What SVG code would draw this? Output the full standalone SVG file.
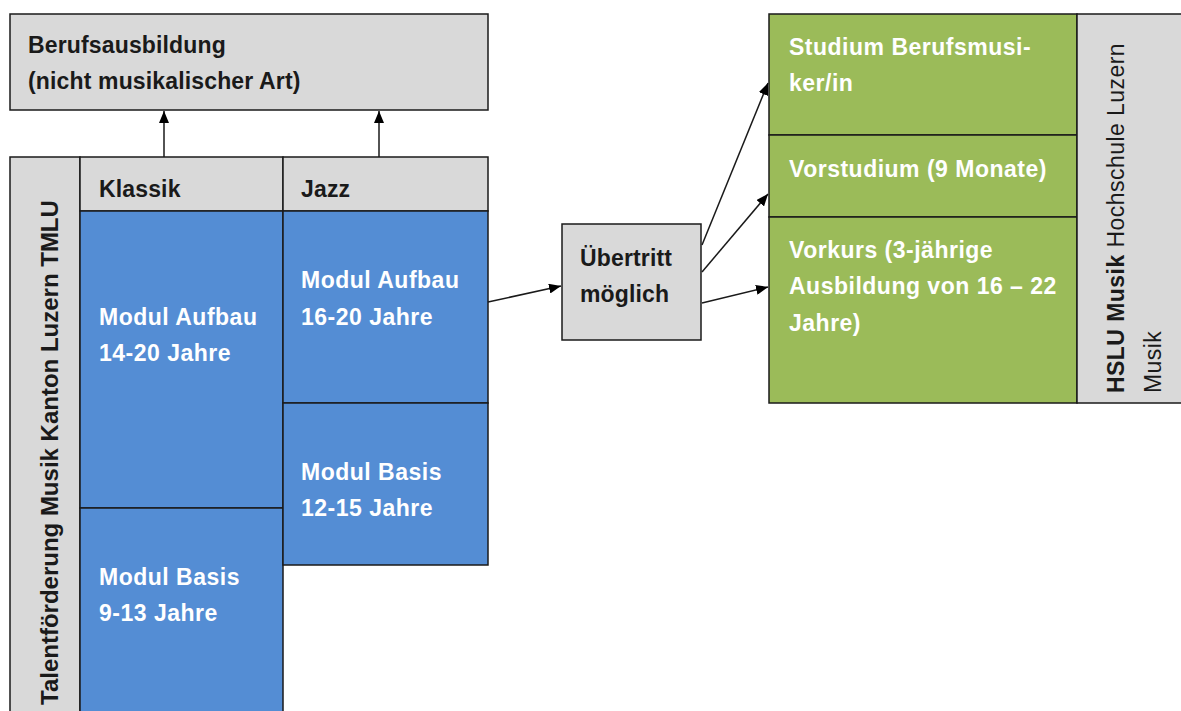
<svg xmlns="http://www.w3.org/2000/svg" width="1181" height="711" viewBox="0 0 1181 711">
<style>
.box{stroke:#1a1a1a;stroke-width:1.5}
.grey{fill:#d9d9d9}
.blue{fill:#548dd4}
.green{fill:#9bbb59}
text{font-family:"Liberation Sans",Arial,sans-serif;font-size:23px;font-weight:bold}
.dark{fill:#1a1a1a;letter-spacing:0.15px}
.white{fill:#ffffff;letter-spacing:0.5px}
.reg{font-weight:normal}
.sp{letter-spacing:0.45px}
.conn{stroke:#1a1a1a;stroke-width:1.5;fill:none;marker-end:url(#ah)}
</style>
<defs>
<marker id="ah" viewBox="0 0 10 10" refX="10" refY="5" markerWidth="12" markerHeight="10" markerUnits="userSpaceOnUse" orient="auto" preserveAspectRatio="none">
<path d="M0,0 L10,5 L0,10 z" fill="#000"/>
</marker>
</defs>
<rect width="1181" height="711" fill="#ffffff"/>

<g id="berufsausbildung">
<rect class="box grey" x="10" y="14" width="478" height="96"/>
<text class="dark" x="28" y="53">Berufsausbildung</text>
<text class="dark" x="28" y="89">(nicht musikalischer Art)</text>
</g>

<g id="tmlu-label">
<rect class="box grey" x="10" y="157" width="70" height="560"/>
<text class="dark" transform="translate(58,705) rotate(-90)" style="font-size:24px;letter-spacing:0">Talentförderung Musik Kanton Luzern TMLU</text>
</g>

<g id="klassik-header">
<rect class="box grey" x="80" y="157" width="203" height="54"/>
<text class="dark" x="99" y="197">Klassik</text>
</g>

<g id="jazz-header">
<rect class="box grey" x="283" y="157" width="205" height="54"/>
<text class="dark" x="301" y="197">Jazz</text>
</g>

<g id="klassik-aufbau">
<rect class="box blue" x="80" y="211" width="203" height="297"/>
<text class="white" x="99" y="325">Modul Aufbau</text>
<text class="white" x="99" y="361">14-20 Jahre</text>
</g>

<g id="klassik-basis">
<rect class="box blue" x="80" y="508" width="203" height="210"/>
<text class="white" x="99" y="585">Modul Basis</text>
<text class="white" x="99" y="621">9-13 Jahre</text>
</g>

<g id="jazz-aufbau">
<rect class="box blue" x="283" y="211" width="205" height="192"/>
<text class="white" x="301" y="288">Modul Aufbau</text>
<text class="white" x="301" y="325">16-20 Jahre</text>
</g>

<g id="jazz-basis">
<rect class="box blue" x="283" y="403" width="205" height="162"/>
<text class="white" x="301" y="480">Modul Basis</text>
<text class="white" x="301" y="516">12-15 Jahre</text>
</g>

<g id="uebertritt">
<rect class="box grey" x="562" y="224" width="139" height="116"/>
<text class="dark" x="580" y="266">Übertritt</text>
<text class="dark" x="580" y="302">möglich</text>
</g>

<g id="studium">
<rect class="box green" x="769" y="14" width="308" height="121"/>
<text class="white" x="789" y="55">Studium Berufsmusi-</text>
<text class="white" x="789" y="91">ker/in</text>
</g>

<g id="vorstudium">
<rect class="box green" x="769" y="135" width="308" height="82"/>
<text class="white" x="789" y="177">Vorstudium (9 Monate)</text>
</g>

<g id="vorkurs">
<rect class="box green" x="769" y="217" width="308" height="186"/>
<text class="white" x="789" y="258">Vorkurs (3-jährige</text>
<text class="white" x="789" y="294">Ausbildung von 16 – 22</text>
<text class="white" x="789" y="331">Jahre)</text>
</g>

<g id="hslu">
<rect class="box grey" x="1077" y="14" width="110" height="389"/>
<text class="dark sp" transform="translate(1124,393) rotate(-90)">HSLU Musik<tspan class="reg"> Hochschule Luzern</tspan></text>
<text class="dark reg sp" transform="translate(1161,393) rotate(-90)">Musik</text>
</g>

<g id="connectors">
<line class="conn" x1="164" y1="157" x2="164" y2="111"/>
<line class="conn" x1="379" y1="157" x2="379" y2="111"/>
<line class="conn" x1="488" y1="302" x2="561" y2="286"/>
<line class="conn" x1="702" y1="245" x2="768" y2="83"/>
<line class="conn" x1="702" y1="272" x2="768" y2="194"/>
<line class="conn" x1="702" y1="303" x2="768" y2="287"/>
</g>
</svg>
